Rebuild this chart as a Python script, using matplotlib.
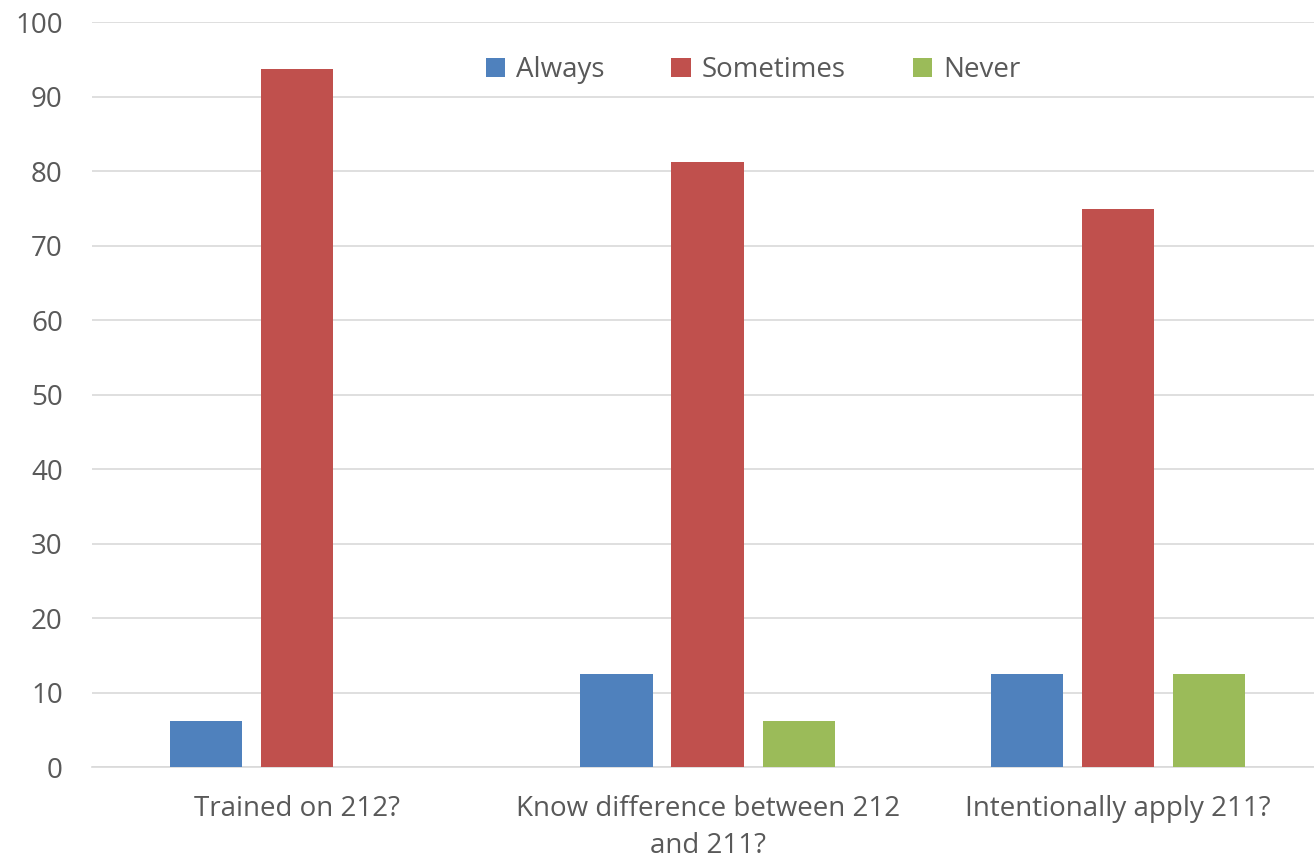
import matplotlib
matplotlib.use("Agg")
import matplotlib.pyplot as plt
import numpy as np

categories = ["Trained on 212?", "Know difference between 212\nand 211?", "Intentionally apply 211?"]
always = [6.25, 12.5, 12.5]
sometimes = [93.75, 81.25, 75.0]
never = [0, 6.25, 12.5]

series = [("Always", always, "#4F81BD"),
          ("Sometimes", sometimes, "#C0504D"),
          ("Never", never, "#9BBB59")]

plt.rcParams['font.family'] = ['Open Sans', 'DejaVu Sans']
text_color = "#595959"
fs = 20

fig = plt.figure(figsize=(13.14, 8.6), dpi=100)
ax = fig.add_axes([0.070, 0.108, 0.937, 0.866])

x = np.arange(len(categories))
width = 0.176
step = 0.222
for i, (name, vals, color) in enumerate(series):
    ax.bar(x + (i - 1) * step, vals, width, color=color, label=name, zorder=3)

ax.set_xlim(-0.5, 2.5)
ax.set_ylim(0, 100)
ax.set_yticks(range(0, 101, 10))
ax.set_xticks(x)
ax.set_xticklabels(categories, fontsize=fs, color=text_color, linespacing=1.45)
ax.tick_params(axis='y', labelsize=fs, labelcolor=text_color, length=0, pad=21)
ax.tick_params(axis='x', length=0, pad=20)
ax.grid(axis='y', color="#D9D9D9", linewidth=1.2, zorder=0)
for side in ['top', 'right', 'left']:
    ax.spines[side].set_visible(False)
ax.spines['bottom'].set_color("#D9D9D9")
ax.spines['bottom'].set_linewidth(1.2)

ax.legend(loc='upper center', bbox_to_anchor=(0.537, 0.988), ncol=3, frameon=False,
          fontsize=fs, labelcolor=text_color, handlelength=0.7, handleheight=0.7,
          handletextpad=0.4, columnspacing=2.4)

fig.savefig("out.png", dpi=100)
